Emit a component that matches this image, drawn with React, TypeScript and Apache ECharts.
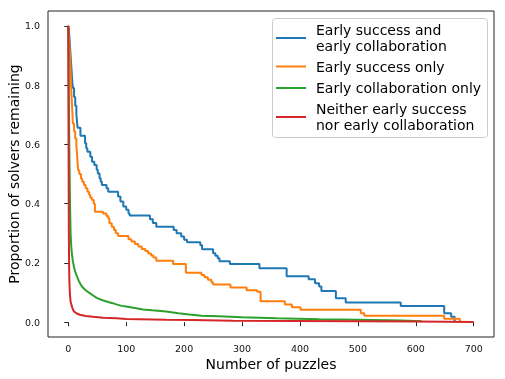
import React, { useEffect, useRef } from "react";
import * as echarts from "echarts";

const seriesNames = [
  "Early success and\nearly collaboration",
  "Early success only",
  "Early collaboration only",
  "Neither early success\nnor early collaboration",
];
const seriesColors = ["#1f77b4", "#ff7f0e", "#2ca02c", "#d62728"];

const xTicks = [0, 100, 200, 300, 400, 500, 600, 700];
const yTicks = [0, 0.2, 0.4, 0.6, 0.8, 1.0];

const blueData = [
  [0, 1.0], [1, 0.99], [2, 0.96], [3, 0.93], [4, 0.9], [5, 0.87], [6, 0.84], [7, 0.81],
  [8, 0.79], [10, 0.76], [12, 0.73], [14, 0.7], [15, 0.68], [16, 0.656], [21, 0.629],
  [29, 0.604], [31, 0.587], [33, 0.575], [38, 0.558], [41, 0.541], [45, 0.53], [49, 0.514],
  [51, 0.502], [54, 0.486], [56, 0.474], [58, 0.463], [66, 0.452], [69, 0.44], [86, 0.424],
  [90, 0.407], [95, 0.39], [100, 0.379], [104, 0.367], [106, 0.36], [141, 0.347],
  [146, 0.335], [152, 0.322], [182, 0.311], [187, 0.3], [195, 0.289], [200, 0.278],
  [205, 0.27], [228, 0.26], [231, 0.246], [250, 0.233], [254, 0.224], [258, 0.216],
  [261, 0.206], [279, 0.196], [330, 0.182], [377, 0.155], [415, 0.145], [426, 0.131],
  [433, 0.12], [437, 0.105], [462, 0.081], [479, 0.066], [574, 0.055], [649, 0.03],
  [661, 0.018], [667, 0.0],
];

const orangeData = [
  [0, 1.0], [1, 0.96], [2, 0.93], [3, 0.9], [4, 0.85], [5, 0.79], [6, 0.75], [7, 0.71],
  [8, 0.67], [10, 0.643], [12, 0.62], [14, 0.592], [15, 0.57], [16, 0.54], [17, 0.513],
  [19, 0.5], [22, 0.485], [24, 0.474], [27, 0.463], [30, 0.452], [33, 0.44], [36, 0.43],
  [38, 0.42], [41, 0.412], [44, 0.4], [46, 0.373], [60, 0.367], [66, 0.358], [69, 0.35],
  [71, 0.334], [75, 0.322], [79, 0.311], [82, 0.3], [86, 0.291], [104, 0.28], [109, 0.272],
  [115, 0.264], [121, 0.255], [127, 0.247], [133, 0.24], [138, 0.232], [143, 0.225],
  [147, 0.218], [152, 0.207], [181, 0.196], [203, 0.167], [230, 0.159], [235, 0.152],
  [241, 0.143], [247, 0.135], [250, 0.127], [280, 0.117], [308, 0.108], [326, 0.103],
  [332, 0.071], [374, 0.06], [386, 0.05], [401, 0.042], [505, 0.03], [511, 0.022],
  [649, 0.012], [676, 0.0],
];

const greenData = [
  [0, 1.0], [1, 0.75], [2, 0.55], [3, 0.4], [4, 0.3], [5, 0.26], [6, 0.235], [8, 0.205],
  [10, 0.185], [12, 0.17], [15, 0.155], [18, 0.14], [22, 0.125], [26, 0.115], [31, 0.106],
  [37, 0.098], [43, 0.09], [49, 0.082], [58, 0.075], [66, 0.07], [75, 0.065], [83, 0.06],
  [92, 0.055], [100, 0.053], [115, 0.048], [129, 0.043], [145, 0.04], [169, 0.036],
  [190, 0.03], [209, 0.026], [230, 0.022], [260, 0.02], [300, 0.017], [360, 0.013],
  [433, 0.01], [500, 0.008], [575, 0.006], [610, 0.003],
];

const redData = [
  [0, 1.0], [0.5, 0.6], [1, 0.3], [1.5, 0.18], [2, 0.13], [3, 0.09], [4, 0.07], [6, 0.055],
  [8, 0.043], [10, 0.036], [14, 0.03], [20, 0.025], [30, 0.021], [43, 0.018], [60, 0.015],
  [83, 0.013], [100, 0.011], [169, 0.008], [215, 0.007], [284, 0.005], [387, 0.004],
  [500, 0.003], [600, 0.002], [700, 0.001],
];

const seriesData = [blueData, orangeData, greenData, redData];
const seriesStep: (string | false)[] = ["end", "end", false, false];

const FONT = "DejaVu Sans";

export default function App() {
  const ref = useRef<HTMLDivElement>(null);
  useEffect(() => {
    if (!ref.current) return;
    const chart = echarts.init(ref.current, undefined, { renderer: "svg" });

    const legendX = 272.5;
    const legendY = 18.5;
    const rowCenters = [38, 66.5, 88, 117];
    const legendChildren: any[] = [
      {
        type: "rect",
        shape: { x: legendX, y: legendY, width: 215, height: 119, r: 3 },
        style: { fill: "rgba(255,255,255,0.8)", stroke: "#cccccc", lineWidth: 1 },
      },
    ];
    seriesNames.forEach((name, i) => {
      legendChildren.push({
        type: "line",
        shape: { x1: 276, y1: rowCenters[i], x2: 306, y2: rowCenters[i] },
        style: { stroke: seriesColors[i], lineWidth: 2 },
      });
      legendChildren.push({
        type: "text",
        x: 316,
        y: rowCenters[i],
        style: {
          text: name,
          font: `14px "${FONT}"`,
          fill: "#000",
          verticalAlign: "middle",
          align: "left",
          lineHeight: 16.4,
        },
      });
    });

    chart.setOption({
      animation: false,
      grid: {
        left: 48,
        right: 11,
        top: 11,
        bottom: 42,
        containLabel: false,
        outerBoundsMode: "none",
        show: true,
        borderColor: "#222",
        borderWidth: 1,
        backgroundColor: "transparent",
      },
      xAxis: {
        type: "value",
        min: -35,
        max: 735,
        name: "Number of puzzles",
        nameLocation: "middle",
        nameGap: 20,
        nameMoveOverlap: false,
        nameTextStyle: {
          fontFamily: FONT,
          fontSize: 14,
          color: "#000",
          verticalAlign: "top",
        },
        axisLine: { show: false },
        axisTick: {
          show: true,
          length: 4,
          lineStyle: { color: "#222" },
          customValues: xTicks,
        },
        axisLabel: {
          fontFamily: FONT,
          fontSize: 9.5,
          color: "#111",
          margin: 6,
          customValues: xTicks,
          formatter: (v: number) => String(Math.round(v)),
        },
        splitLine: { show: false },
      },
      yAxis: {
        type: "value",
        min: -0.05,
        max: 1.05,
        name: "Proportion of solvers remaining",
        nameLocation: "middle",
        nameGap: 34,
        nameMoveOverlap: false,
        nameTextStyle: {
          fontFamily: FONT,
          fontSize: 14,
          color: "#000",
          verticalAlign: "middle",
        },
        axisLine: { show: false },
        axisTick: {
          show: true,
          length: 4,
          lineStyle: { color: "#222" },
          customValues: yTicks,
        },
        axisLabel: {
          fontFamily: FONT,
          fontSize: 9.5,
          color: "#111",
          margin: 8,
          customValues: yTicks,
          formatter: (v: number) => v.toFixed(1),
        },
        splitLine: { show: false },
      },
      series: seriesData.map((d, i) => ({
        type: "line",
        name: seriesNames[i],
        data: d,
        step: seriesStep[i],
        showSymbol: false,
        symbol: "none",
        lineStyle: { color: seriesColors[i], width: 2 },
        itemStyle: { color: seriesColors[i] },
        z: 2 + i,
      })),
      graphic: [{ type: "group", children: legendChildren, z: 100 }],
    });
    return () => chart.dispose();
  }, []);
  return (
    <div
      ref={ref}
      style={{ position: "fixed", left: 0, top: 0, width: 505, height: 379 }}
    />
  );
}
